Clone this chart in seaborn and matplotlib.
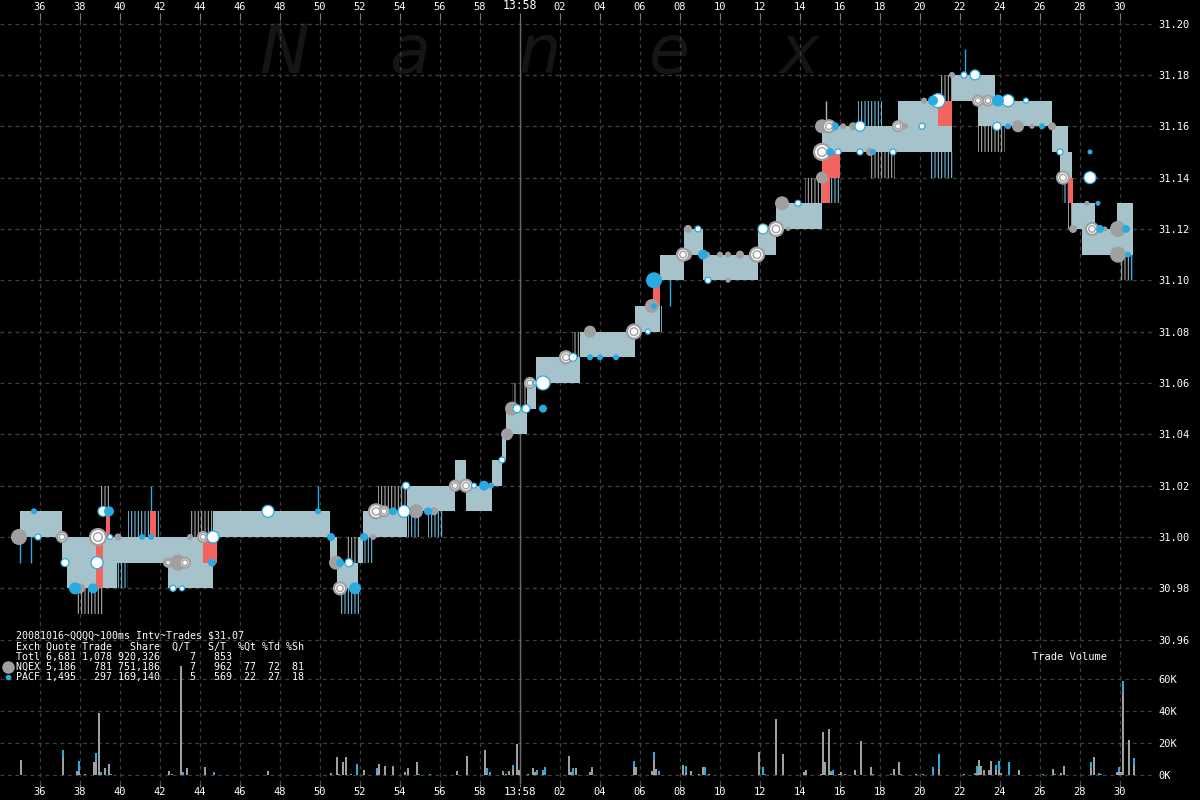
import numpy as np
import pandas as pd
import matplotlib
matplotlib.use("Agg")
import matplotlib.pyplot as plt
from matplotlib.lines import Line2D
import seaborn as sns

# ---------------- data (time = seconds after 13:57:00) ----------------
band_t = [35.0, 37.1, 37.35, 39.85, 42.4, 44.65, 50.5, 50.85, 51.9, 52.15,
          54.35, 56.75, 57.3, 58.6, 59.1, 59.3, 60.35, 60.8, 63.0, 65.75,
          67.0, 68.2, 69.15, 71.9, 72.8, 75.1, 78.9, 81.6, 82.9, 83.75,
          86.6, 87.0, 87.4, 87.6, 88.1, 88.75, 89.85, 90.65]
band_bid = [31.00, 30.99, 30.98, 30.99, 30.98, 31.00, 30.99, 30.98, 30.99, 31.00,
            31.01, 31.02, 31.01, 31.02, 31.03, 31.04, 31.05, 31.06, 31.07, 31.08,
            31.10, 31.11, 31.10, 31.11, 31.12, 31.15, 31.15, 31.17, 31.16, 31.16,
            31.15, 31.14, 31.14, 31.12, 31.11, 31.11, 31.11, 31.11]
band_ask = [31.01, 31.00, 31.00, 31.00, 31.00, 31.01, 31.00, 30.99, 31.00, 31.01,
            31.02, 31.03, 31.02, 31.03, 31.04, 31.05, 31.06, 31.07, 31.08, 31.09,
            31.11, 31.12, 31.11, 31.12, 31.13, 31.16, 31.17, 31.18, 31.18, 31.17,
            31.16, 31.16, 31.15, 31.13, 31.13, 31.12, 31.13, 31.13]

# away-quote whiskers
wh_t0 = [37.8, 39.0, 39.5, 40.4, 43.5, 51.0, 51.35, 52.15, 52.9, 54.4,
         55.4, 59.6, 60.1, 62.6, 66.65, 74.25, 75.5, 76.9, 77.5, 80.5,
         81.0, 82.9, 87.1, 87.4, 90.0]
wh_t1 = [39.2, 39.5, 40.4, 42.0, 44.65, 52.0, 52.0, 52.65, 54.35, 55.0,
         56.15, 59.8, 60.35, 63.0, 67.1, 75.1, 76.0, 78.1, 78.75, 81.65,
         81.65, 84.25, 87.65, 87.75, 90.65]
wh_lo = [30.97, 31.01, 30.98, 31.00, 31.00, 30.97, 30.99, 30.99, 31.01, 31.00,
         31.00, 31.05, 31.05, 31.07, 31.08, 31.13, 31.13, 31.16, 31.14, 31.14,
         31.17, 31.15, 31.13, 31.12, 31.10]
wh_hi = [30.98, 31.02, 30.99, 31.01, 31.01, 30.98, 31.00, 31.00, 31.02, 31.01,
         31.01, 31.06, 31.06, 31.08, 31.09, 31.14, 31.14, 31.17, 31.15, 31.15,
         31.18, 31.16, 31.14, 31.13, 31.11]
wh_col = ['g', 'g', 'b', 'b', 'g', 'b', 'g', 'b', 'g', 'b',
          'b', 'g', 'g', 'g', 'b', 'g', 'b', 'b', 'g', 'b',
          'g', 'g', 'b', 'g', 'g']

ln_t = [35.0, 35.55, 41.55, 49.9, 67.5, 75.3, 82.25, 90.55]
ln_lo = [30.99, 30.99, 31.01, 31.01, 31.09, 31.16, 31.18, 31.10]
ln_hi = [31.00, 31.00, 31.02, 31.02, 31.10, 31.17, 31.19, 31.13]
ln_col = ['b', 'b', 'b', 'b', 'b', 'g', 'b', 'b']

# crossed / locked intervals
red_t0 = [38.8, 39.3, 41.5, 44.15, 66.65, 75.1, 75.1, 80.9, 87.4]
red_t1 = [39.15, 39.5, 41.8, 44.85, 67.0, 76.0, 75.5, 81.6, 87.65]
red_lo = [30.98, 31.00, 31.00, 30.99, 31.09, 31.14, 31.13, 31.16, 31.13]
red_hi = [31.00, 31.01, 31.01, 31.00, 31.10, 31.15, 31.14, 31.17, 31.14]

# trades
trade_t = [34.95, 35.7, 35.9, 37.1, 37.25, 37.75, 38.0, 38.65, 38.9, 38.85,
           39.15, 39.45, 39.5, 39.9, 41.1, 41.55, 42.4, 42.9, 43.25, 42.65,
           43.1, 43.5, 44.15, 44.65, 44.6, 47.4, 49.9, 50.55, 50.8, 51.0,
           51.45, 51.0, 51.75, 52.2, 52.65, 52.8, 53.2, 53.65, 54.2, 54.8,
           55.4, 55.7, 54.3, 56.75, 57.3, 57.7, 58.2, 58.55, 59.1, 59.35,
           59.6, 59.85, 60.3, 61.15, 60.5, 60.8, 61.15, 62.3, 62.65, 63.5,
           63.5, 64.0, 64.8, 65.7, 66.4, 66.6, 66.7, 66.7, 66.9, 68.4,
           68.9, 68.15, 68.3, 69.15, 69.35, 70.0, 70.4, 71.0, 71.85, 69.4,
           70.4, 72.15, 72.8, 73.4, 73.1, 73.9, 75.1, 75.1, 75.5, 75.9,
           75.1, 75.45, 75.75, 76.15, 76.65, 77.0, 77.0, 77.5, 77.65, 78.65,
           78.9, 79.25, 80.1, 80.2, 80.65, 80.9, 81.6, 82.2, 82.75, 82.9,
           83.4, 83.9, 84.4, 85.3, 83.85, 84.4, 84.9, 85.6, 86.1, 86.6,
           87.0, 88.5, 87.15, 88.5, 88.35, 88.9, 87.65, 88.6, 89.0, 89.25,
           89.9, 90.3, 89.9, 90.4]
trade_px = [31.00, 31.01, 31.00, 31.00, 30.99, 30.98, 30.98, 30.98, 31.00, 30.99,
            31.01, 31.01, 31.00, 31.00, 31.00, 31.00, 30.99, 30.99, 30.99, 30.98,
            30.98, 31.00, 31.00, 31.00, 30.99, 31.01, 31.01, 31.00, 30.99, 30.99,
            30.99, 30.98, 30.98, 31.00, 31.00, 31.01, 31.01, 31.01, 31.01, 31.01,
            31.01, 31.01, 31.02, 31.02, 31.02, 31.02, 31.02, 31.02, 31.03, 31.04,
            31.05, 31.05, 31.05, 31.05, 31.06, 31.06, 31.06, 31.07, 31.07, 31.08,
            31.07, 31.07, 31.07, 31.08, 31.08, 31.09, 31.09, 31.10, 31.10, 31.12,
            31.12, 31.11, 31.11, 31.11, 31.11, 31.11, 31.11, 31.11, 31.11, 31.10,
            31.10, 31.12, 31.12, 31.12, 31.13, 31.13, 31.14, 31.15, 31.15, 31.15,
            31.16, 31.16, 31.16, 31.16, 31.16, 31.16, 31.15, 31.15, 31.15, 31.15,
            31.16, 31.16, 31.16, 31.17, 31.17, 31.17, 31.18, 31.18, 31.18, 31.17,
            31.17, 31.17, 31.17, 31.17, 31.16, 31.16, 31.16, 31.16, 31.16, 31.16,
            31.15, 31.15, 31.14, 31.14, 31.13, 31.13, 31.12, 31.12, 31.12, 31.12,
            31.12, 31.12, 31.11, 31.11]
trade_kind = list("gbwrwbgbrw" "wbwgbbrgrw" "wgrwbwbbgb" "wrbbgrrbwg" "bgwrrwbbwg"
                  "gwwbrwwrwg" "bbbrwgbbwg" "wrgbggggrw" "gwrggwgrbw" "grbggwwgbw"
                  "rgwgbwgwwr" "rbwwwbggbg" "wbrwgbgrbg" "gbgb")
trade_d = [16, 6, 6, 10, 8, 12, 10, 10, 16, 12,
           10, 10, 5, 7, 6, 6, 8, 16, 10, 6,
           5, 6, 10, 12, 8, 12, 6, 8, 14, 8,
           8, 12, 12, 8, 6, 14, 10, 8, 12, 14,
           8, 8, 7, 10, 12, 5, 10, 6, 6, 12,
           14, 8, 8, 8, 10, 5, 14, 12, 8, 12,
           6, 6, 6, 14, 5, 14, 6, 16, 5, 8,
           6, 12, 12, 10, 6, 6, 6, 8, 14, 6,
           5, 10, 14, 4, 14, 6, 12, 16, 8, 6,
           14, 12, 8, 6, 8, 10, 6, 8, 6, 6,
           10, 6, 6, 6, 10, 14, 6, 6, 10, 10,
           10, 12, 12, 5, 8, 6, 12, 5, 6, 8,
           6, 5, 12, 12, 5, 5, 8, 12, 8, 5,
           16, 8, 16, 6]

# trade volume per 100ms interval (thousands of shares)
vol_t = [35.05, 35.85, 37.15, 37.3, 37.85, 37.95, 38.25, 38.7, 38.8, 38.95,
         39.05, 39.25, 39.45, 39.55, 42.45, 42.6, 43.05, 43.15, 43.35, 44.25,
         44.7, 47.4, 49.9, 50.55, 50.85, 50.95, 51.15, 51.3, 51.55, 51.85,
         52.2, 52.85, 52.95, 53.25, 53.65, 54.25, 54.4, 54.85, 54.95, 55.5,
         55.75, 56.85, 57.35, 57.75, 58.25, 58.35, 58.5, 59.15, 59.3, 59.45,
         59.65, 59.85, 59.95, 60.4, 60.65, 60.75, 60.85, 61.15, 61.25, 62.15,
         62.45, 62.55, 62.65, 62.8, 63.5, 63.6, 64.0, 64.8, 65.7, 65.8,
         66.45, 66.6, 66.7, 66.8, 66.95, 68.15, 68.3, 68.55, 68.95, 69.15,
         69.25, 69.45, 70.05, 70.85, 71.1, 71.95, 72.15, 72.25, 72.65, 72.8,
         73.15, 73.45, 73.95, 74.2, 74.3, 75.05, 75.15, 75.25, 75.45, 75.55,
         75.65, 75.95, 76.05, 76.25, 76.75, 77.05, 77.55, 77.65, 78.55, 78.7,
         78.95, 79.05, 79.8, 80.15, 80.65, 80.95, 82.2, 82.75, 82.85, 82.95,
         83.05, 83.2, 83.45, 83.55, 83.8, 83.95, 84.05, 84.45, 84.95, 86.15,
         86.65, 86.75, 87.05, 87.2, 87.75, 88.55, 88.7, 88.95, 89.05, 89.85,
         89.95, 90.05, 90.15, 90.45, 90.7]
vol_nqex = [9.3, 0, 11, 0, 2.4, 2, 0.8, 8, 8, 39,
            0, 4.4, 6.9, 0, 2.6, 0.4, 68, 0, 4.4, 5,
            0, 2.6, 0, 0.8, 11, 0, 8, 11, 0.8, 0,
            3.2, 2, 6.9, 5.7, 5, 2, 4.4, 8, 0, 0,
            0.3, 2.6, 11.7, 0.3, 15.4, 0.5, 0, 1.5, 0.8, 2.6,
            4, 19.6, 3.2, 0.4, 4.4, 2, 0, 1.5, 0, 0,
            11.7, 2, 0, 4.4, 1.6, 4, 0, 0, 4.8, 4.8,
            0, 2.4, 9.3, 3.6, 0, 6, 1, 2.4, 0.8, 5,
            0, 0.5, 0.3, 0.3, 0.3, 14.5, 0, 0, 0.3, 34.7,
            12.9, 0.3, 0.3, 1.6, 3.2, 0.8, 26.7, 8, 29, 1,
            0, 0.8, 1.8, 0.8, 3.2, 21.4, 4.8, 0, 0.4, 3.8,
            8, 0, 0.8, 0.8, 0, 4, 0.8, 0, 1, 9.3,
            5.7, 3.2, 3.2, 8.5, 3.2, 3.2, 1.2, 0, 3.2, 0,
            3.6, 0, 1.4, 5.7, 0.3, 4.4, 11, 0, 0, 2,
            2, 2, 51, 22, 6]
vol_pacf = [0, 0.3, 4.4, 0.3, 0, 7, 0, 0, 6, 0,
            2, 0, 0, 0.8, 0, 0, 0, 2, 0, 0,
            2, 0, 0.3, 0.6, 0, 0.8, 0, 0, 0, 6.9,
            0, 2.4, 0, 0, 0.4, 0, 0, 0, 0.8, 0.8,
            0, 0, 0, 0, 0, 4, 2, 1.2, 0, 0,
            2, 0, 0, 0, 0, 0, 3.2, 1.7, 5, 0.3,
            0, 0, 4.4, 0, 0, 1.2, 0.3, 0.3, 3.7, 0,
            0.3, 0, 5.2, 0, 2.4, 0, 4.4, 0, 0, 0,
            5, 0, 0, 0, 0, 0, 5, 0.8, 0, 0,
            0, 0, 0, 0, 0, 0, 0, 0, 0, 1.8,
            3.2, 0, 0, 0, 0, 0, 0, 0.8, 0, 0,
            0, 0.4, 0, 0, 4.8, 8.9, 0, 1.4, 4.7, 0,
            0, 0, 0, 0, 2.8, 5.3, 0, 8, 0, 0.8,
            0, 0.8, 0, 0, 0, 3.6, 0, 1.4, 0.8, 0,
            2.8, 0, 8, 0, 4.5]

x_ticks = list(range(36, 91, 2))
price_ticks = [30.96, 30.98, 31.00, 31.02, 31.04, 31.06, 31.08, 31.10,
               31.12, 31.14, 31.16, 31.18, 31.20]
vol_ticks = [0, 20, 40, 60]
vol_labels = ['0K', '20K', '40K', '60K']

info_lines = ["20081016~QQQQ~100ms Intv~Trades $31.07",
              "Exch Quote Trade   Share  Q/T   S/T  %Qt %Td %Sh",
              "Totl 6,681 1,078 920,326     7   853",
              "NQEX 5,186   781 751,186     7   962  77  72  81",
              "PACF 1,495   297 169,140     5   569  22  27  18"]
watermark = ["N", "a", "n", "e", "x"]

# ---------------- style ----------------
GRAY = '#a0a0a0'
BLUE = '#29abe2'
RED = '#f4645f'
BAND = '#a6c3cb'
STRIPE_G = '#b4b4b4'
STRIPE_B = '#74c9ea'
GRID = '#404040'

sns.set_theme(style="dark", rc={"axes.facecolor": "black", "figure.facecolor": "black",
                                "savefig.facecolor": "black"})
plt.rcParams['font.family'] = ['DejaVu Sans Mono', 'DejaVu Sans']
plt.rcParams['hatch.linewidth'] = 0.75

W, H = 1200, 800
fig = plt.figure(figsize=(12, 8), dpi=100, facecolor='black')
ax = fig.add_axes([0, 1 - 655 / H, 1153 / W, 635 / H])
axv = fig.add_axes([0, 16 / H, 1153 / W, 129 / H])

for a in (ax, axv):
    a.set_facecolor('black')
    for s in a.spines.values():
        s.set_visible(False)
    a.grid(True, color=GRID, linestyle=(0, (3, 3)), linewidth=0.9)
    a.set_axisbelow(True)
    a.set_xlim(34.0, 91.65)
    a.axvline(60, color='#6a6a6a', lw=1.0, zorder=0.8)

ax.set_ylim(30.95403, 31.2014)
axv.set_ylim(-5.625, 75.0)

# watermark
wm_x = [284, 410, 540, 669, 799]
for ch, xp in zip(watermark, wm_x):
    ax.text(xp / W, 1 - 73 / H, ch, transform=fig.transFigure, fontsize=48,
            style='italic', family='DejaVu Sans', color='#151515',
            ha='center', va='baseline', zorder=0.3)

# quote band
bt = np.array(band_t)
ax.fill_between(bt, band_bid, band_ask, step='post', facecolor=BAND,
                edgecolor='none', linewidth=0, zorder=2)

# whiskers
for t0, t1, lo, hi, c in zip(wh_t0, wh_t1, wh_lo, wh_hi, wh_col):
    ax.fill_between([t0, t1], [lo, lo], [hi, hi], facecolor='none',
                    edgecolor=STRIPE_G if c == 'g' else STRIPE_B,
                    hatch='|||||', linewidth=0, zorder=1.8)
for t, lo, hi, c in zip(ln_t, ln_lo, ln_hi, ln_col):
    ax.vlines(t, lo, hi, color=STRIPE_G if c == 'g' else BLUE, lw=1.0, zorder=1.9)

# crossed intervals
for t0, t1, lo, hi in zip(red_t0, red_t1, red_lo, red_hi):
    ax.fill_between([t0, t1], [lo, lo], [hi, hi], color=RED, linewidth=0, zorder=3)

# trades
trades = pd.DataFrame({'t': trade_t, 'price': trade_px, 'kind': trade_kind, 'd': trade_d})
trades['area'] = (trades['d'] * 0.72) ** 2
amin, amax = trades['area'].min(), trades['area'].max()
styles = {'g': dict(color=GRAY, edgecolor='none', linewidth=0),
          'r': dict(color='white', edgecolor=GRAY, linewidth=1.6),
          'w': dict(color='white', edgecolor=BLUE, linewidth=0.9),
          'b': dict(color=BLUE, edgecolor='none', linewidth=0)}
for k in ['g', 'r', 'w', 'b']:
    sub = trades[trades['kind'] == k]
    sns.scatterplot(data=sub, x='t', y='price', size='area', sizes=(amin, amax),
                    size_norm=(amin, amax), legend=False, ax=ax, zorder=5, **styles[k])
ring = trades[trades['kind'] == 'r']
sns.scatterplot(data=ring, x='t', y='price', size='area', sizes=(amin * 0.3, amax * 0.3),
                size_norm=(amin, amax), legend=False, ax=ax, zorder=6,
                color='white', edgecolor=GRAY, linewidth=1.0)
ax.set_xlabel('')
ax.set_ylabel('')

# volume
vt = np.array(vol_t)
vn = np.array(vol_nqex)
vp = np.array(vol_pacf)
axv.bar(vt, vn, width=0.13, color=GRAY, linewidth=0, zorder=2)
axv.bar(vt, vp, width=0.13, bottom=vn, color=BLUE, linewidth=0, zorder=2)

# ticks
xlabels = ['13:58' if v == 60 else f'{v % 60:02d}' for v in x_ticks]
ax.set_xticks(x_ticks, xlabels)
axv.set_xticks(x_ticks, xlabels)
ax.tick_params(axis='x', top=True, bottom=False, labeltop=True, labelbottom=False,
               length=5, width=0.8, color='#808080', labelcolor='white',
               labelsize=7.5, pad=1.0, direction='out')
axv.tick_params(axis='x', top=False, bottom=True, labeltop=False, labelbottom=True,
                length=2, width=0.8, color='#808080', labelcolor='white',
                labelsize=7.5, pad=0.5, direction='out')
for lbl in ax.get_xticklabels():
    if lbl.get_text() == '13:58':
        lbl.set_fontsize(8.3)
for lbl in axv.get_xticklabels():
    if lbl.get_text() == '13:58':
        lbl.set_fontsize(7.8)

ax.set_yticks(price_ticks, [f'{p:.2f}' for p in price_ticks])
axv.set_yticks(vol_ticks, vol_labels)
for a in (ax, axv):
    a.yaxis.tick_right()
    a.tick_params(axis='y', length=0, pad=4, labelcolor='white', labelsize=7.5,
                  left=False, right=True, labelleft=False, labelright=True)

# texts
fig.text(1032 / W, 1 - 657 / H, 'Trade Volume', color='white', fontsize=7.5,
         ha='left', va='center')
for i, line in enumerate(info_lines):
    fig.text(16 / W, 1 - (636 + i * 10.3) / H, line, color='white', fontsize=7.2,
             ha='left', va='center')
fig.add_artist(Line2D([8 / W], [1 - 667 / H], marker='o', markersize=9,
                      color=GRAY, markeredgewidth=0, transform=fig.transFigure))
fig.add_artist(Line2D([8 / W], [1 - 677 / H], marker='o', markersize=4,
                      color=BLUE, markeredgewidth=0, transform=fig.transFigure))

fig.savefig('out.png', dpi=100, facecolor='black')
